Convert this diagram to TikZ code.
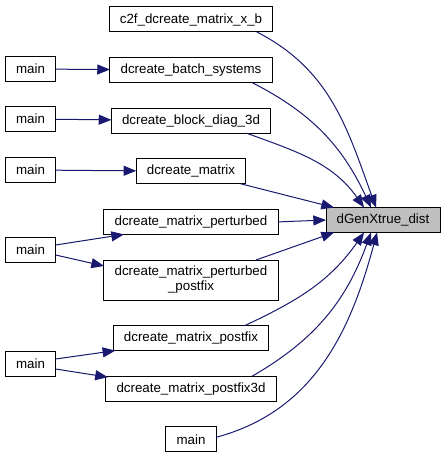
\documentclass[tikz,border=0pt]{standalone}
\usepackage{fontspec}
\setmainfont{Liberation Sans}
\usetikzlibrary{arrows.meta,positioning,calc}
\definecolor{edgeblue}{HTML}{191970}
\definecolor{focusgray}{HTML}{BFBFBF}

\begin{document}
\begin{tikzpicture}[x=0.75pt, y=0.75pt, node distance=19.2pt,
                    font=\fontsize{10}{11.25}\selectfont]
                \tikzstyle{func} = [rectangle, draw=black, line width=0.75pt,
                inner xsep=8pt, inner ysep=0pt, outer sep=0pt, minimum height=18.75pt]
                \tikzstyle{focus} = [func, fill=focusgray]
                \tikzstyle{call} = [line width=0.75pt, edgeblue,
                -{Triangle[length=9.5pt,width=7.5pt]}]

                \useasboundingbox (0,0) rectangle (447,-459);

                % callers, middle column
                \node [func] (c2f) at (191,-19.5) {c2f\_dcreate\_matrix\_x\_b};
                \node [func, below=of c2f] (batch) {dcreate\_batch\_systems};
                \node [func, below=of batch] (block) {dcreate\_block\_diag\_3d};
                \node [func, below=of block] (matrix) {dcreate\_matrix};
                \node [func, below=of matrix] (pert) {dcreate\_matrix\_perturbed};
                \node [func, below=of pert, align=center, minimum height=30pt] (pertpost) {dcreate\_matrix\_perturbed\\\_postfix};
                \node [func, below=of pertpost] (postfix) {dcreate\_matrix\_postfix};
                \node [func, below=of postfix] (post3d) {dcreate\_matrix\_postfix3d};
                \node [func, below=of post3d] (mainF) {main};

                \node [focus] (dgen) at (383,-220) {dGenXtrue\_dist};

                % callers, left column
                \node [func] (mainA) at (30.5,-69) {main};
                \node [func] (mainB) at (30.5,-119) {main};
                \node [func] (mainC) at (30.5,-170) {main};
                \node [func] (mainD) at (30.5,-250) {main};
                \node [func] (mainE) at (30.5,-364) {main};

                \draw [call] (mainA) -- (batch);
                \draw [call] (mainB) -- (block);
                \draw [call] (mainC) -- (matrix);
                \draw [call] ($(mainD.east)+(0,5)$) -- ($(pert.south west)+(20,0)$);
                \draw [call] ($(mainD.east)+(0,-5)$) -- ($(pertpost.west)+(0,14)$);
                \draw [call] ($(mainE.east)+(0,5)$) -- ($(postfix.south west)+(2,0)$);
                \draw [call] ($(mainE.east)+(0,-5)$) -- ($(post3d.north west)+(2,-1)$);

                \draw [call] ($(c2f.south east)+(-16,0)$) to[out=-27, in=110] ($(dgen.north west)+(50,0)$);
                \draw [call] ($(batch.south east)+(-20,0)$) to[out=-27, in=115] ($(dgen.north west)+(45,0)$);
                \draw [call] ($(block.south east)+(-24,0)$) to[out=-20, in=125] ($(dgen.north west)+(38,0)$);
                \draw [call] ($(matrix.south east)+(-5,0)$) -- ($(dgen.north west)+(8,0)$);
                \draw [call] (pert.east) -- (dgen.west);
                \draw [call] ($(pertpost.north east)+(-22,0)$) -- ($(dgen.south west)+(8,0)$);
                \draw [call] ($(postfix.north east)+(-24,0)$) to[out=25, in=-125] ($(dgen.south west)+(38,0)$);
                \draw [call] ($(post3d.north east)+(-24,0)$) to[out=30, in=-110] ($(dgen.south west)+(45,0)$);
                \draw [call] ($(mainF.east)+(0,2)$) to[out=15, in=-105] ($(dgen.south west)+(51,0)$);
            \end{tikzpicture}
\end{document}
